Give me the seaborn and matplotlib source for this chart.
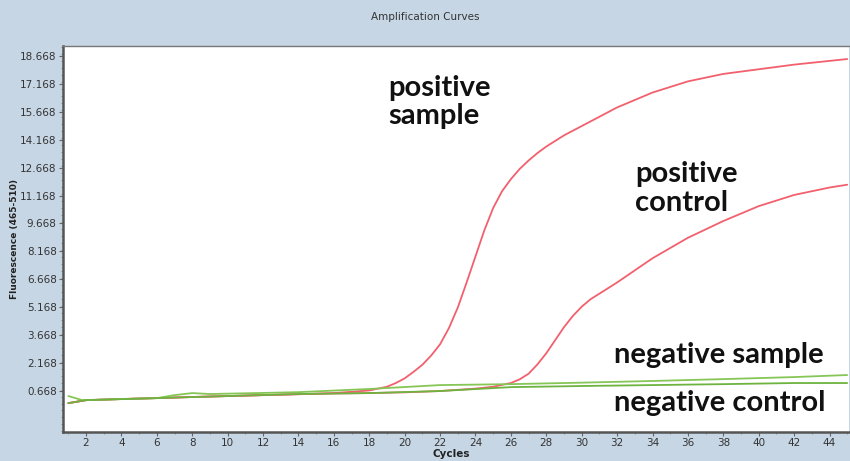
import matplotlib
matplotlib.use("Agg")
import matplotlib.pyplot as plt
from matplotlib.ticker import MultipleLocator, FixedLocator
import seaborn as sns
import pandas as pd

# ---- data ----
pos_sample_cycles = [1, 2, 4, 6, 8, 10, 12, 14, 16, 18, 19, 19.5, 20, 20.5, 21, 21.5, 22, 22.5, 23, 23.5, 24, 24.5, 25, 25.5, 26, 26.5, 27, 27.5, 28, 29, 30, 32, 34, 36, 38, 40, 42, 44, 45]
pos_sample_values = [0.02, 0.18, 0.24, 0.29, 0.35, 0.40, 0.45, 0.50, 0.56, 0.70, 0.90, 1.10, 1.35, 1.70, 2.08, 2.58, 3.18, 4.05, 5.15, 6.5, 7.9, 9.3, 10.5, 11.4, 12.05, 12.6, 13.05, 13.45, 13.8, 14.4, 14.9, 15.9, 16.7, 17.3, 17.7, 17.95, 18.2, 18.4, 18.5]

pos_control_cycles = [1, 2, 4, 6, 8, 10, 12, 14, 16, 18, 20, 22, 24, 25, 26, 26.5, 27, 27.5, 28, 28.5, 29, 29.5, 30, 30.5, 31, 32, 34, 36, 38, 40, 42, 44, 45]
pos_control_values = [0.02, 0.18, 0.24, 0.29, 0.35, 0.40, 0.45, 0.50, 0.54, 0.56, 0.60, 0.67, 0.80, 0.90, 1.10, 1.30, 1.60, 2.10, 2.70, 3.40, 4.10, 4.70, 5.20, 5.60, 5.90, 6.50, 7.80, 8.90, 9.80, 10.60, 11.20, 11.60, 11.75]

neg_sample_cycles = [1, 1.8, 4, 6, 7, 8, 9, 11.6, 14, 18, 22, 26, 30, 34, 38, 42, 45]
neg_sample_values = [0.40, 0.18, 0.24, 0.29, 0.45, 0.56, 0.51, 0.56, 0.61, 0.78, 0.99, 1.04, 1.12, 1.21, 1.31, 1.42, 1.53]

neg_control_cycles = [1, 2, 6, 10, 14, 18, 22, 26, 30, 34, 38, 42, 45]
neg_control_values = [0.02, 0.18, 0.29, 0.40, 0.51, 0.56, 0.67, 0.88, 0.94, 0.99, 1.04, 1.10, 1.10]

series_names = ["positive sample", "positive control", "negative sample", "negative control"]
series_colors = ["#f2606e", "#f2606e", "#86c656", "#6db33f"]

y_ticks = [0.668, 2.168, 3.668, 5.168, 6.668, 8.168, 9.668, 11.168, 12.668, 14.168, 15.668, 17.168, 18.668]
x_ticks = list(range(2, 46, 2))

frames = []
for name, xs, ys in [
    (series_names[0], pos_sample_cycles, pos_sample_values),
    (series_names[1], pos_control_cycles, pos_control_values),
    (series_names[2], neg_sample_cycles, neg_sample_values),
    (series_names[3], neg_control_cycles, neg_control_values),
]:
    frames.append(pd.DataFrame({"Cycles": xs, "Fluorescence": ys, "series": name}))
df = pd.concat(frames, ignore_index=True)

sns.set_style("white")
plt.rcParams["font.family"] = ["DejaVu Sans"]

bg = "#c6d6e5"
fig = plt.figure(figsize=(8.5, 4.61), dpi=100, facecolor=bg)
ax = fig.add_axes([63 / 850, 1 - 432 / 461, (849 - 63) / 850, (432 - 46) / 461])
ax.set_facecolor("white")

sns.lineplot(data=df, x="Cycles", y="Fluorescence", hue="series",
             palette=dict(zip(series_names, series_colors)),
             hue_order=series_names, linewidth=1.3, ax=ax, legend=False,
             sort=True, estimator=None)

ax.set_xlim(0.7, 45.1)
ax.set_ylim(-1.53, 19.2)
ax.yaxis.set_major_locator(FixedLocator(y_ticks))
ax.set_yticklabels([f"{v:.3f}" for v in y_ticks])
ax.xaxis.set_major_locator(FixedLocator(x_ticks))
ax.set_xticklabels([str(v) for v in x_ticks])
ax.yaxis.set_minor_locator(MultipleLocator(0.375))
ax.xaxis.set_minor_locator(MultipleLocator(1))

ax.tick_params(axis="both", which="major", direction="out", length=3, width=0.8,
               color="#666666", labelsize=7.5, labelcolor="#333333", pad=1.5)
ax.tick_params(axis="both", which="minor", direction="out", length=1.5, width=0.6,
               color="#888888")
ax.tick_params(left=True, bottom=True, which="both")

for side in ["left", "bottom"]:
    ax.spines[side].set_color("#555555")
    ax.spines[side].set_linewidth(1.8)
ax.spines["top"].set_color("#777777")
ax.spines["top"].set_linewidth(1.0)
ax.spines["right"].set_visible(False)

ax.set_xlabel("Cycles", fontsize=7.5, fontweight="bold", color="#222222", labelpad=0)
ax.xaxis.set_label_coords(0.494, -0.045)
ax.set_ylabel("Fluorescence (465-510)", fontsize=6.5, fontweight="bold", color="#222222")
ax.yaxis.set_label_coords(-0.056, 0.5)

fig.text(0.5, 1 - 17 / 461, "Amplification Curves", ha="center", va="center",
         fontsize=7.5, color="#333333")

anno = dict(fontsize=21, fontweight="bold", color="#111111",
            family=["Lato", "DejaVu Sans"], ha="left", linespacing=1.12)
ax.text(19.1, 16.2, "positive\nsample", va="center", **anno)
ax.text(33.0, 11.55, "positive\ncontrol", va="center", **anno)
ax.text(31.8, 2.6, "negative sample", va="center", **anno)
ax.text(31.8, 0.02, "negative control", va="center", **anno)

fig.savefig("out.png", dpi=100, facecolor=bg)
